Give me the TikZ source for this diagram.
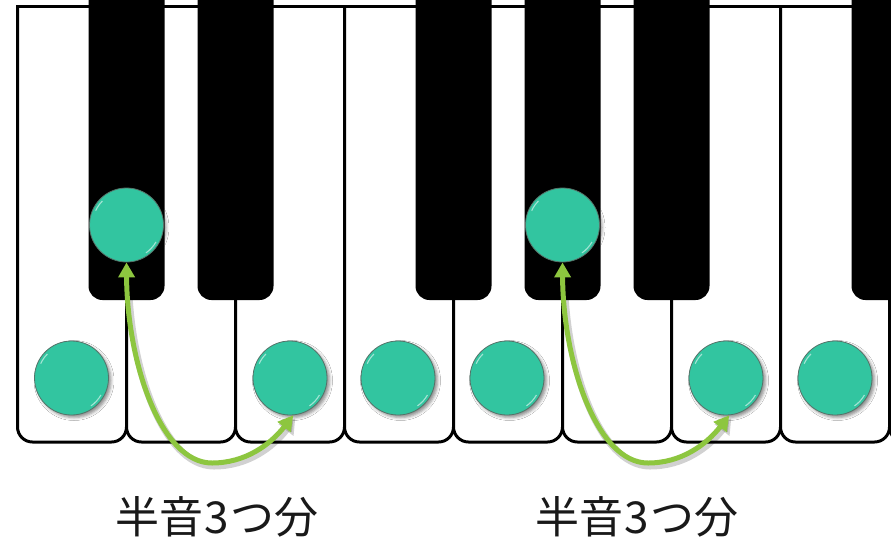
\documentclass[tikz,border=0pt]{standalone}
\usepackage{fontspec}
\newfontfamily\cjk[LetterSpace=2]{Noto Sans CJK JP}
\usetikzlibrary{arrows.meta,shadows.blur,calc}
\definecolor{dotfill}{RGB}{50,197,160}
\definecolor{dotrim}{RGB}{85,115,105}
\definecolor{arrgreen}{RGB}{141,198,63}
\definecolor{txtc}{RGB}{25,25,25}
\tikzset{
  whitekey/.style={fill=white,draw=black,line width=3pt,rounded corners=15pt},
  blackkey/.style={fill=black,rounded corners=14pt},
  dot/.style={circle,minimum size=74pt,inner sep=0pt,fill=dotfill,draw=dotrim,line width=0.8pt,
    blur shadow={shadow xshift=2.5pt,shadow yshift=-2.5pt,shadow blur radius=3pt,shadow opacity=45}},
  hl/.style={draw=white,opacity=0.55,line width=1.1pt},
  arr/.style={draw=arrgreen,line width=5pt,{Triangle[length=15pt,width=16pt]}-{Triangle[length=15pt,width=16pt]}},
  arrshadow/.style={draw=black,opacity=0.18,line width=7pt,{Triangle[length=15pt,width=18pt]}-{Triangle[length=15pt,width=18pt]}},
  lbl/.style={font=\cjk\fontsize{44}{50}\selectfont,text=txtc,inner sep=0pt,anchor=base}
}
\begin{document}
\begin{tikzpicture}[x=1pt,y=-1pt]
\useasboundingbox (0,0) rectangle (891,539);
\begin{scope}
\clip (0,0) rectangle (891,539);
% white keys
\foreach \i in {0,...,8}{
  \pgfmathsetmacro\xa{17.5+109*\i}
  \pgfmathsetmacro\xb{\xa+109}
  \draw[whitekey] (\xa,6.5) -- (\xa,442) -- (\xb,442) -- (\xb,6.5);
}
% black keys
\foreach \c in {126.5,235.5,453.5,562.5,671.5,889.5}{
  \fill[blackkey] (\c-38,-40) -- (\c-38,300) -- (\c+38,300) -- (\c+38,-40) -- cycle;
}
% top border
\draw[line width=3.6pt] (17.5,12) -- (17.5,6.5) -- (900,6.5);
\end{scope}
% dots
\node[dot] (w1) at (71.5,378) {};
\node[dot] (b1) at (126.5,225) {};
\node[dot] (w3) at (290,378) {};
\node[dot] (w4) at (398,378) {};
\node[dot] (w5) at (507,378) {};
\node[dot] (b2) at (562.5,225) {};
\node[dot] (w7) at (726,378) {};
\node[dot] (w8) at (835,378) {};
% highlights
\foreach \n in {w1,b1,w3,w4,w5,b2,w7,w8}{
  \draw[hl] ($(\n)+(205:34)$) arc[start angle=205,end angle=225,radius=34];
  \draw[hl] ($(\n)+(30:34)$) arc[start angle=30,end angle=55,radius=34];
}
% arrows
\foreach \s/\e in {b1/w3,b2/w7}{
  \draw[arrshadow,transform canvas={shift={(2pt,-3pt)}}] (\s.south) .. controls ($(\s)+(0.5,135)$) and ($(\s)+(33.5,238)$) .. ($(\s)+(85.5,238)$) .. controls ($(\s)+(118.5,238)$) and ($(\s)+(143.5,220)$) .. (\e.275);
  \draw[arr] (\s.south) .. controls ($(\s)+(0.5,135)$) and ($(\s)+(33.5,238)$) .. ($(\s)+(85.5,238)$) .. controls ($(\s)+(118.5,238)$) and ($(\s)+(143.5,220)$) .. (\e.275);
}
% labels
\node[lbl] (t1) at (217,533) {半音3つ分};
\node[lbl] (t2) at (637,533) {半音3つ分};
\end{tikzpicture}
\end{document}
